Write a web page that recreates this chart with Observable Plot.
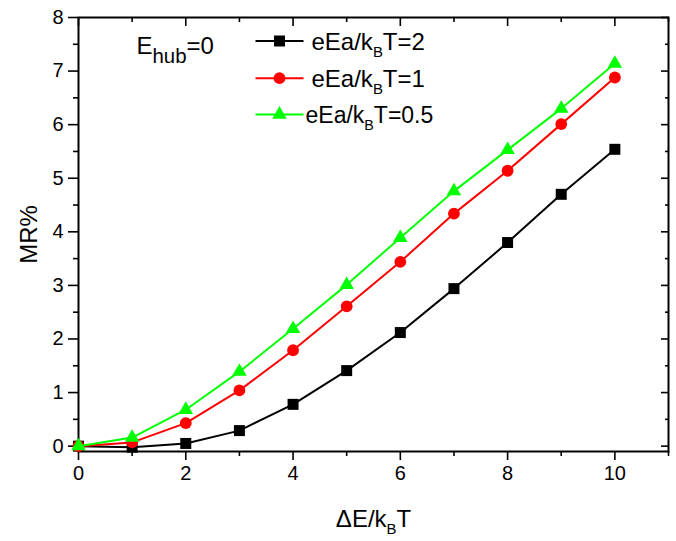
<!DOCTYPE html>
<html>
<head>
<meta charset="utf-8">
<script src="https://cdn.jsdelivr.net/npm/d3@7"></script>
<script src="https://cdn.jsdelivr.net/npm/@observablehq/plot@0.6"></script>
<style>
  html, body { margin: 0; padding: 0; background: #fff; }
  #chart { width: 676px; height: 541px; }
</style>
</head>
<body>
<div id="chart"></div>
<script>
// ---- data ----
const xValues = [0, 1, 2, 3, 4, 5, 6, 7, 8, 9, 10];
const seriesNames = ["eEa/k_{B}T=2", "eEa/k_{B}T=1", "eEa/k_{B}T=0.5"];
const mrEa2   = [0, -0.02, 0.05, 0.29, 0.78, 1.41, 2.12, 2.94, 3.80, 4.70, 5.54];
const mrEa1   = [0, 0.07, 0.43, 1.04, 1.79, 2.61, 3.44, 4.34, 5.14, 6.01, 6.88];
const mrEa05  = [0, 0.16, 0.68, 1.39, 2.19, 3.01, 3.89, 4.76, 5.53, 6.30, 7.14];
const xMajorTicks = [0, 2, 4, 6, 8, 10];
const xMinorTicks = [1, 3, 5, 7, 9, 11];
const yMajorTicks = [0, 1, 2, 3, 4, 5, 6, 7, 8];
const yMinorTicks = [0.5, 1.5, 2.5, 3.5, 4.5, 5.5, 6.5, 7.5];
const annotation = "E_{hub}=0";
const xTitle = "ΔE/k_{B}T";
const yTitle = "MR%";

// ---- styles ----
const colors = ["#000000", "#ff0000", "#00ff00"];
const symbols = ["square", "circle", "triangle"];
const symbolR = [6.2, 5.9, 5.4];
const allSeries = [mrEa2, mrEa1, mrEa05];

const tables = allSeries.map((vals, i) =>
  xValues.map((x, j) => ({x, y: vals[j], s: seriesNames[i]}))
);

const lineSymbol = { draw(ctx) { ctx.moveTo(-24, 0); ctx.lineTo(24, 0); } };
const intFmt = d3.format("d");
const noLabel = () => "";

const marks = [];
// axes
const axisCommon = {strokeWidth: 1.6, label: null, fontSize: 20};
marks.push(Plot.axisX(xMajorTicks, {anchor: "bottom", tickSize: 9, tickPadding: 5, tickFormat: intFmt, ...axisCommon}));
marks.push(Plot.axisX(xMinorTicks, {anchor: "bottom", tickSize: 5, tickFormat: noLabel, ...axisCommon}));
marks.push(Plot.axisX(xMajorTicks, {anchor: "top", tickSize: -8, tickFormat: noLabel, ...axisCommon}));
marks.push(Plot.axisX(xMinorTicks, {anchor: "top", tickSize: -4, tickFormat: noLabel, ...axisCommon}));
marks.push(Plot.axisY(yMajorTicks, {anchor: "left", tickSize: 10, tickPadding: 5, tickFormat: intFmt, ...axisCommon}));
marks.push(Plot.axisY(yMinorTicks, {anchor: "left", tickSize: 5, tickFormat: noLabel, ...axisCommon}));
marks.push(Plot.axisY(yMajorTicks, {anchor: "right", tickSize: -8, tickFormat: noLabel, ...axisCommon}));
marks.push(Plot.axisY(yMinorTicks, {anchor: "right", tickSize: -4, tickFormat: noLabel, ...axisCommon}));
marks.push(Plot.frame({stroke: "#000", strokeWidth: 2}));

// series
tables.forEach((t, i) => {
  marks.push(Plot.line(t, {x: "x", y: "y", stroke: colors[i], strokeWidth: 2}));
  marks.push(Plot.dot(t, {x: "x", y: "y", symbol: symbols[i], r: symbolR[i], fill: colors[i], stroke: "none"}));
});

// legend
const legendRowY = [23.5, 60.7, 97];
const legendTextDx = [233, 233, 227];
seriesNames.forEach((name, i) => {
  marks.push(Plot.dot([name], {x: null, y: null, frameAnchor: "top-left", dx: 201, dy: legendRowY[i],
    symbol: lineSymbol, fill: "none", stroke: colors[i], strokeWidth: 2}));
  marks.push(Plot.dot([name], {x: null, y: null, frameAnchor: "top-left", dx: 201, dy: legendRowY[i],
    symbol: symbols[i], r: symbolR[i], fill: colors[i], stroke: "none"}));
  marks.push(Plot.text([name], {x: null, y: null, text: d => d, frameAnchor: "top-left",
    dx: legendTextDx[i], dy: legendRowY[i] + 1, textAnchor: "start", lineAnchor: "middle",
    fontSize: i === 2 ? 23 : 24, fill: "#000"}));
});

// annotation
marks.push(Plot.text([annotation], {x: null, y: null, text: d => d, frameAnchor: "top-left",
  dx: 58, dy: 29, textAnchor: "start", lineAnchor: "middle", fontSize: 24, fill: "#000"}));

// axis titles
marks.push(Plot.text([xTitle], {x: null, y: null, text: d => d, frameAnchor: "bottom",
  dy: 68, textAnchor: "middle", lineAnchor: "middle", fontSize: 24, fill: "#000"}));
marks.push(Plot.text([yTitle], {x: null, y: null, text: d => d, frameAnchor: "left",
  dx: -49, rotate: -90, textAnchor: "middle", lineAnchor: "middle", fontSize: 24, fill: "#000"}));

const chart = Plot.plot({
  width: 676,
  height: 541,
  marginLeft: 78,
  marginRight: 8,
  marginTop: 17,
  marginBottom: 90,
  x: {domain: [0, 11]},
  y: {domain: [-0.1, 8]},
  style: {fontFamily: "'Liberation Sans', Arial, sans-serif", fontSize: "20px", color: "#000", background: "#fff", overflow: "visible"},
  marks
});

// tick label size: force on every numeric tick label text element
d3.select(chart).selectAll("text")
  .filter(function() { return /^-?\d+$/.test(this.textContent.trim()); })
  .attr("font-size", 20)
  .style("font-size", "20px");

// subscripts: replace "_{...}" with real tspans
d3.select(chart).selectAll("text").each(function() {
  const el = this;
  const txt = el.textContent;
  if (!/_\{/.test(txt)) return;
  const isHub = /hub/.test(txt);
  const shift = isHub ? 9 : 7;
  const subSize = isHub ? "85%" : "62%";
  const parts = txt.split(/(_\{[^}]*\})/).filter(p => p.length);
  el.textContent = "";
  let pendingUp = false;
  parts.forEach(p => {
    const t = document.createElementNS("http://www.w3.org/2000/svg", "tspan");
    if (p.startsWith("_{")) {
      t.textContent = p.slice(2, -1);
      t.setAttribute("font-size", subSize);
      t.setAttribute("dy", shift);
      pendingUp = true;
    } else {
      t.textContent = p;
      if (pendingUp) { t.setAttribute("dy", -shift); pendingUp = false; }
    }
    el.appendChild(t);
  });
});

document.getElementById("chart").appendChild(chart);
</script>
</body>
</html>
